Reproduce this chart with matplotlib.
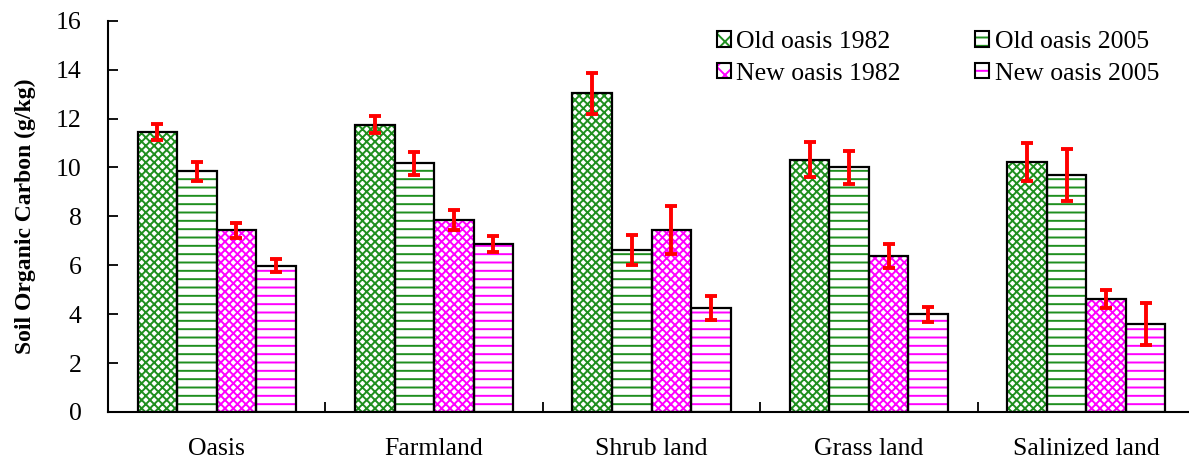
import matplotlib
matplotlib.use("Agg")
import matplotlib.pyplot as plt
import numpy as np
from matplotlib.patches import Patch

categories = ["Oasis", "Farmland", "Shrub land", "Grass land", "Salinized land"]
series_names = ["Old oasis 1982", "Old oasis 2005", "New oasis 1982", "New oasis 2005"]

old_1982 = [11.45, 11.75, 13.03, 10.32, 10.23]
old_2005 = [9.85, 10.17, 6.62, 10.00, 9.68]
new_1982 = [7.43, 7.85, 7.45, 6.37, 4.62]
new_2005 = [5.98, 6.87, 4.25, 3.99, 3.59]

old_1982_err = [0.32, 0.36, 0.85, 0.70, 0.77]
old_2005_err = [0.39, 0.47, 0.61, 0.69, 1.07]
new_1982_err = [0.30, 0.41, 0.97, 0.49, 0.37]
new_2005_err = [0.27, 0.32, 0.48, 0.31, 0.86]

y_ticks = [0, 2, 4, 6, 8, 10, 12, 14, 16]

values = [old_1982, old_2005, new_1982, new_2005]
errors = [old_1982_err, old_2005_err, new_1982_err, new_2005_err]

GREEN = "#1f8f1f"
MAGENTA = "#ff00ff"
hatch_colors = [GREEN, GREEN, MAGENTA, MAGENTA]
hatches = ["xxxx", "--", "xxxx", "--"]

plt.rcParams["font.family"] = ["Liberation Serif", "DejaVu Serif"]
plt.rcParams["hatch.linewidth"] = 1.4

W, H = 1189, 463
fig = plt.figure(figsize=(W / 100, H / 100), dpi=100)
left, right, bottom, top = 108, 1195, 412, 20.7
ax = fig.add_axes([left / W, (H - bottom) / H, (right - left) / W, (bottom - top) / H])

x = np.arange(len(categories))
width = 0.182
offsets = (np.arange(4) - 1.5) * width

for i in range(4):
    pos = x + offsets[i]
    # hatch layer, coloured by series
    ax.bar(pos, values[i], width, color="white", edgecolor=hatch_colors[i],
           hatch=hatches[i], linewidth=0, zorder=2)
    # black outline
    ax.bar(pos, values[i], width, fill=False, edgecolor="black",
           linewidth=1.6, zorder=3)
    ax.errorbar(pos, values[i], yerr=errors[i], fmt="none", ecolor="red",
                elinewidth=2.8, capsize=4.5, capthick=2.8, zorder=4)

ax.set_xlim(-0.5, len(categories) - 0.5)
ax.set_ylim(0, 16)
ax.set_yticks(y_ticks)
ax.set_yticklabels([str(t) for t in y_ticks])
ax.set_xticks(x)
ax.set_xticklabels(categories)
ax.set_xticks(np.arange(0.5, len(categories) - 0.5, 1.0), minor=True)

ax.tick_params(axis="x", which="major", length=0, pad=19, labelsize=18.5)
ax.tick_params(axis="x", which="minor", direction="in", length=7, width=1.3)
ax.tick_params(axis="y", direction="in", length=7, width=1.3, pad=19, labelsize=18.5)

for s in ["top", "right"]:
    ax.spines[s].set_visible(False)
for s in ["left", "bottom"]:
    ax.spines[s].set_linewidth(1.5)

ax.set_ylabel("Soil Organic Carbon (g/kg)", fontsize=17, fontweight="bold")
ax.yaxis.set_label_coords(-0.066, 0.5)

handles = [Patch(facecolor="white", edgecolor=hatch_colors[i], hatch=hatches[i][:2],
                 linewidth=0) for i in range(4)]
outline = [Patch(fill=False, edgecolor="black", linewidth=1.5) for _ in range(4)]
combo = [(handles[i], outline[i]) for i in range(4)]
order = [0, 2, 1, 3]
leg = fig.legend([combo[i] for i in order], [series_names[i] for i in order],
                 ncol=2, frameon=False, fontsize=18.5,
                 loc="upper left", bbox_to_anchor=(717 / W, 1 - 31 / H),
                 handlelength=0.55, handleheight=0.55, handletextpad=0.2,
                 columnspacing=2.9, labelspacing=0.38, borderaxespad=0, borderpad=0)

fig.savefig("out.png", dpi=100)
